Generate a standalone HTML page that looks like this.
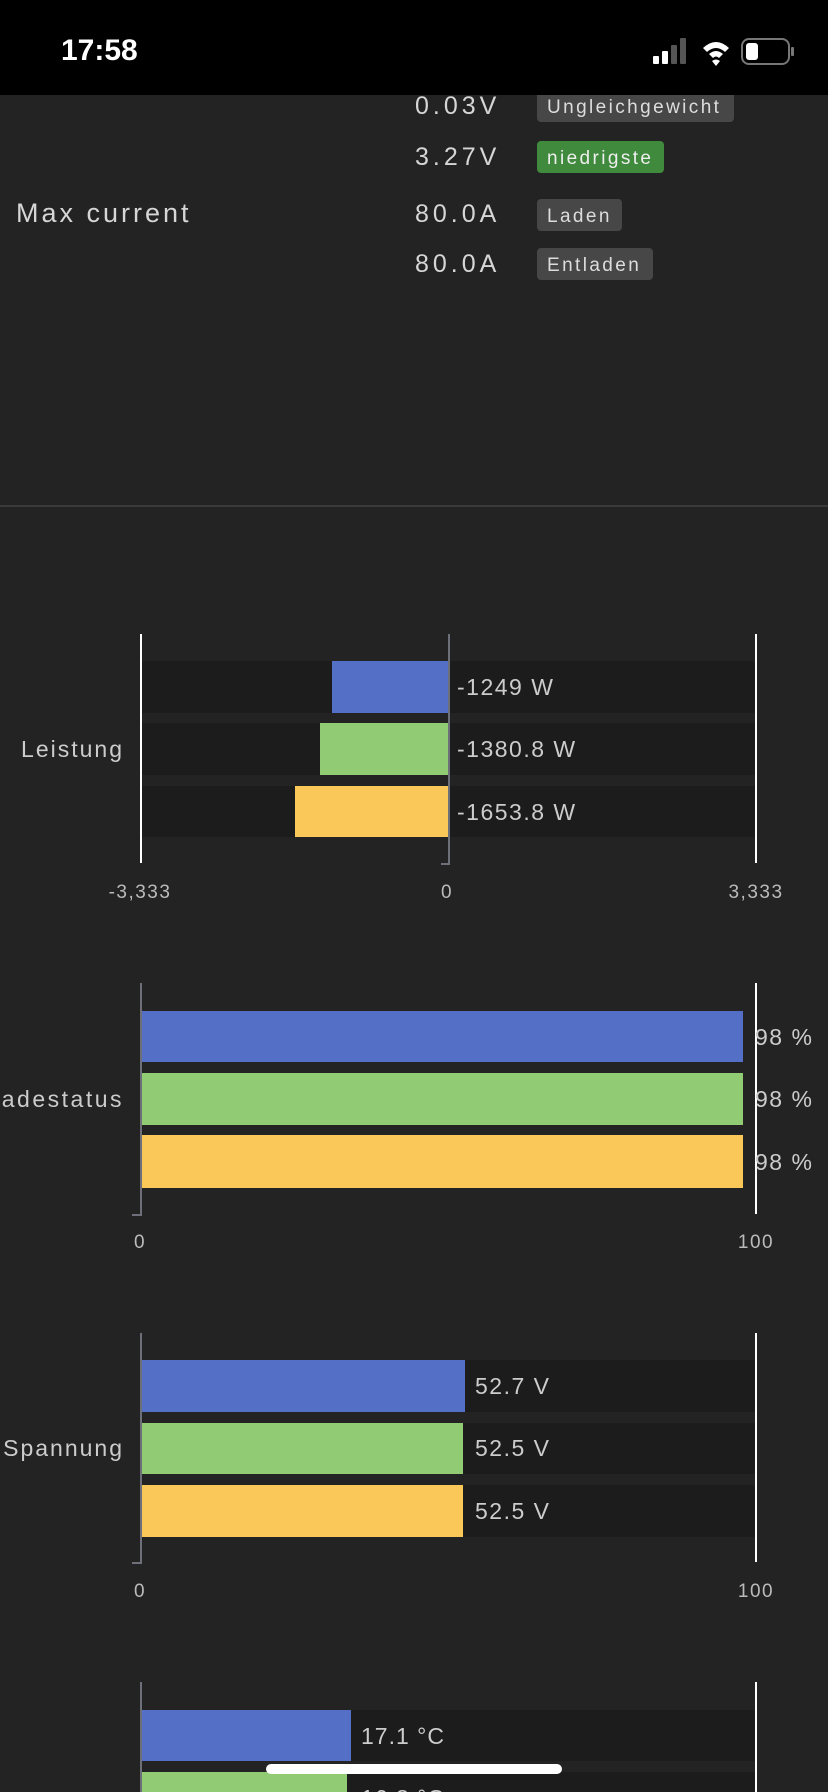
<!DOCTYPE html>
<html><head><meta charset="utf-8"><style>
html,body{margin:0;padding:0;background:#232323;}
svg{display:block;}
text{font-family:"Liberation Sans",sans-serif;}
</style></head><body>
<svg width="828" height="1792" viewBox="0 0 828 1792" xmlns="http://www.w3.org/2000/svg">
<rect width="828" height="1792" fill="#232323"/>
<!-- top info -->
<g fill="#d6d6d6" font-size="25" letter-spacing="4">
<text x="415" y="114">0.03V</text>
<text x="415" y="165">3.27V</text>
<text x="415" y="222">80.0A</text>
<text x="415" y="272">80.0A</text>
</g>
<text x="16" y="222" fill="#d6d6d6" font-size="27" letter-spacing="3">Max current</text>
<g fill="#ddd" font-size="19" letter-spacing="2.4">
<rect x="537" y="91" width="197" height="31" rx="4" fill="#474747"/>
<text x="547" y="113">Ungleichgewicht</text>
<rect x="537" y="141" width="127" height="32" rx="4" fill="#3f8a3c"/>
<text x="547" y="164" fill="#eee">niedrigste</text>
<rect x="537" y="199" width="85" height="32" rx="4" fill="#474747"/>
<text x="547" y="222">Laden</text>
<rect x="537" y="248" width="116" height="32" rx="4" fill="#474747"/>
<text x="547" y="271">Entladen</text>
</g>
<!-- status bar -->
<rect x="0" y="0" width="828" height="95" fill="#000"/>
<text x="61" y="60" fill="#fff" font-size="30" font-weight="bold">17:58</text>
<rect x="653" y="56" width="6" height="8" rx="1" fill="#fff"/>
<rect x="662" y="51" width="6" height="13" rx="1" fill="#fff"/>
<rect x="671" y="45" width="6" height="19" rx="1" fill="#555"/>
<rect x="680" y="38" width="6" height="26" rx="1" fill="#555"/>
<path d="M703 48 Q716 36 729 48 L725 52 Q716 44 707 52 Z M709 54 Q716 48 723 54 L719 58 Q716 55 713 58 Z M716 66 L712 61 Q716 58 720 61 Z" fill="#fff"/>
<rect x="742" y="39" width="47" height="25" rx="7" fill="none" stroke="#777" stroke-width="2"/>
<rect x="746" y="43" width="12" height="17" rx="3" fill="#fff"/>
<rect x="791" y="47" width="3" height="9" rx="1" fill="#777"/>
<!-- divider -->
<rect x="0" y="505" width="828" height="2" fill="#3a3a3a"/>

<!-- chart 1 Leistung -->
<g>
<rect x="140" y="661" width="616" height="52" fill="#1c1c1c"/>
<rect x="140" y="723" width="616" height="52" fill="#1c1c1c"/>
<rect x="140" y="786" width="616" height="51" fill="#1c1c1c"/>
<rect x="332" y="661" width="117" height="52" fill="#5470c6"/>
<rect x="320" y="723" width="129" height="52" fill="#91cc75"/>
<rect x="295" y="786" width="154" height="51" fill="#fac858"/>
<rect x="140" y="634" width="2" height="229" fill="#fff"/>
<rect x="755" y="634" width="2" height="229" fill="#fff"/>
<rect x="448" y="634" width="2" height="231" fill="#6e7079"/>
<rect x="441" y="863" width="9" height="2" fill="#6e7079"/>
<g fill="#ccc" font-size="23" letter-spacing="1.5"><text x="457" y="695">-1249 W</text><text x="457" y="757">-1380.8 W</text><text x="457" y="820">-1653.8 W</text></g>
<text x="124" y="757" fill="#ccc" font-size="23" letter-spacing="2" text-anchor="end">Leistung</text>
<g fill="#bbb" font-size="19" letter-spacing="1.5" text-anchor="middle"><text x="140" y="898">-3,333</text><text x="447" y="898">0</text><text x="756" y="898">3,333</text></g>
</g>

<!-- chart 2 Ladestatus -->
<g>
<rect x="140" y="1011" width="603" height="51" fill="#5470c6"/>
<rect x="140" y="1073" width="603" height="52" fill="#91cc75"/>
<rect x="140" y="1135" width="603" height="53" fill="#fac858"/>
<rect x="140" y="983" width="2" height="233" fill="#6e7079"/>
<rect x="132" y="1214" width="9" height="2" fill="#6e7079"/>
<rect x="755" y="983" width="2" height="231" fill="#fff"/>
<g fill="#ccc" font-size="23" letter-spacing="1.5"><text x="755" y="1045">98 %</text><text x="755" y="1107">98 %</text><text x="755" y="1170">98 %</text></g>
<text x="124" y="1107" fill="#ccc" font-size="23" letter-spacing="2.5" text-anchor="end">Ladestatus</text>
<g fill="#bbb" font-size="19" letter-spacing="1.5" text-anchor="middle"><text x="140" y="1248">0</text><text x="756" y="1248">100</text></g>
</g>

<!-- chart 3 Spannung -->
<g>
<rect x="140" y="1360" width="616" height="52" fill="#1c1c1c"/>
<rect x="140" y="1423" width="616" height="51" fill="#1c1c1c"/>
<rect x="140" y="1485" width="616" height="52" fill="#1c1c1c"/>
<rect x="140" y="1360" width="325" height="52" fill="#5470c6"/>
<rect x="140" y="1423" width="323" height="51" fill="#91cc75"/>
<rect x="140" y="1485" width="323" height="52" fill="#fac858"/>
<rect x="140" y="1333" width="2" height="231" fill="#6e7079"/>
<rect x="132" y="1562" width="9" height="2" fill="#6e7079"/>
<rect x="755" y="1333" width="2" height="229" fill="#fff"/>
<g fill="#ccc" font-size="23" letter-spacing="1.5"><text x="475" y="1394">52.7 V</text><text x="475" y="1456">52.5 V</text><text x="475" y="1519">52.5 V</text></g>
<text x="124" y="1456" fill="#ccc" font-size="23" letter-spacing="2" text-anchor="end">Spannung</text>
<g fill="#bbb" font-size="19" letter-spacing="1.5" text-anchor="middle"><text x="140" y="1597">0</text><text x="756" y="1597">100</text></g>
</g>

<!-- chart 4 -->
<g>
<rect x="140" y="1710" width="616" height="51" fill="#1c1c1c"/>
<rect x="140" y="1772" width="616" height="20" fill="#1c1c1c"/>
<rect x="140" y="1710" width="211" height="51" fill="#5470c6"/>
<rect x="140" y="1772" width="207" height="20" fill="#91cc75"/>
<rect x="140" y="1682" width="2" height="110" fill="#6e7079"/>
<rect x="755" y="1682" width="2" height="110" fill="#fff"/>
<text x="361" y="1744" fill="#ccc" font-size="23" letter-spacing="1">17.1 °C</text>
<text x="361" y="1806" fill="#ccc" font-size="23" letter-spacing="1">16.8 °C</text>
</g>
<rect x="266" y="1764" width="296" height="10" rx="5" fill="#fff"/>
</svg>
</body></html>
